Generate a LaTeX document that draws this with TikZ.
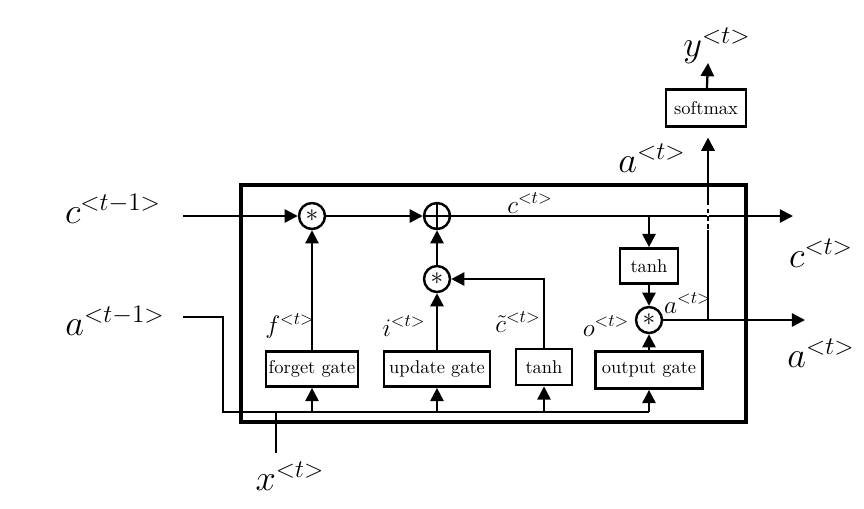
\documentclass[tikz,border=0pt]{standalone}
\usetikzlibrary{arrows.meta}
\begin{document}
\begin{tikzpicture}[x=0.02cm, y=-0.02cm, line width=1.3pt,
    >={Triangle[length=7.5pt,width=7.5pt]},
    gatebox/.style={draw, line width=1.6pt, inner sep=0pt, font=\fontsize{10.5}{12}\selectfont},
    opnode/.style={circle, draw, line width=1.4pt, inner sep=0pt, minimum size=0.52cm, font=\Large},
    biglabel/.style={inner sep=1pt, font=\fontsize{22}{26}\selectfont},
    smalllabel/.style={inner sep=1pt, font=\fontsize{14}{16}\selectfont}]
  \useasboundingbox (0,0) rectangle (864,508);
  % cell frame
  \draw[line width=1.8pt] (241,185) rectangle (746,422);
  % gates and ops
  \node[gatebox, minimum width=1.84cm, minimum height=0.7cm] (forget) at (312,369) {forget gate};
  \node[gatebox, minimum width=2.12cm, minimum height=0.7cm] (update) at (437,369) {update gate};
  \node[gatebox, minimum width=1.12cm, minimum height=0.72cm] (cand) at (544,367) {tanh};
  \node[gatebox, minimum width=2.14cm, minimum height=0.74cm] (output) at (649,370) {output gate};
  \node[gatebox, minimum width=1.16cm, minimum height=0.7cm] (tanhc) at (649,266) {tanh};
  \node[gatebox, minimum width=1.6cm, minimum height=0.74cm] (softmax) at (706,108) {softmax};
  \node[opnode] (mulf) at (312,216) {$\ast$};
  \node[opnode] (plus) at (437,216) {};
  \node[opnode] (muli) at (437,279) {$\ast$};
  \node[opnode] (mulo) at (649,320) {$\ast$};
  \draw[line width=1.4pt] (plus.north) -- (plus.south) (plus.west) -- (plus.east);
  % ends of the outside lines
  \coordinate (cin) at (183,216);
  \coordinate (ain) at (183,317);
  \coordinate (xin) at (276,453);
  \coordinate (bus) at (223,412);
  \coordinate (cout) at (793,216);
  \coordinate (aout) at (805,320);
  \coordinate (cbr) at (649,216);
  \coordinate (ybr) at (708,320);
  \coordinate (yout) at (708,63);
  % cell state
  \draw[->] (cin) -- (mulf);
  \draw[->] (mulf) -- (plus);
  \draw[->] (plus) -- (cout);
  \draw[->] (forget) -- (mulf);
  \draw[->] (update) -- (muli);
  \draw[->] (muli) -- (plus);
  \draw[->] (cand.north) |- (muli);
  \draw[->] (cbr) -- (tanhc);
  \draw[->] (tanhc) -- (mulo);
  \draw[->] (output) -- (mulo);
  \draw[->] (mulo) -- (aout);
  \draw[->, shorten >=5.5pt] (ybr) -- (ybr |- softmax.south);
  \draw[white, line width=1.5pt, dash pattern=on 2pt off 2.5pt] (708,205) -- (708,229);
  \draw[->] (softmax) -- (yout);
  % inputs along the bottom
  \draw (ain) -| (bus) -- (bus -| output);
  \draw (xin) -- (xin |- bus);
  \draw[->] (bus -| forget) -- (forget);
  \draw[->] (bus -| update) -- (update);
  \draw[->] (bus -| cand) -- (cand);
  \draw[->] (bus -| output) -- (output);
  % labels
  \node[biglabel] (lcin) at (113,209) {$c^{<t-1>}$};
  \node[biglabel] (lain) at (115,321) {$a^{<t-1>}$};
  \node[biglabel] (lxin) at (290,476) {$x^{<t>}$};
  \node[biglabel] (lyout) at (717,46) {$y^{<t>}$};
  \node[biglabel] (latop) at (652,158) {$a^{<t>}$};
  \node[biglabel] (lcout) at (821,253) {$c^{<t>}$};
  \node[biglabel] (laout) at (821,353) {$a^{<t>}$};
  \node[smalllabel] (lc) at (530,203) {$c^{<t>}$};
  \node[smalllabel] (lf) at (290,326) {$f^{<t>}$};
  \node[smalllabel] (li) at (404,326) {$i^{<t>}$};
  \node[smalllabel] (lct) at (518,322) {$\tilde{c}^{<t>}$};
  \node[smalllabel] (lo) at (606,326) {$o^{<t>}$};
  \node[smalllabel] (la) at (688,303) {$a^{<t>}$};
\end{tikzpicture}
\end{document}
